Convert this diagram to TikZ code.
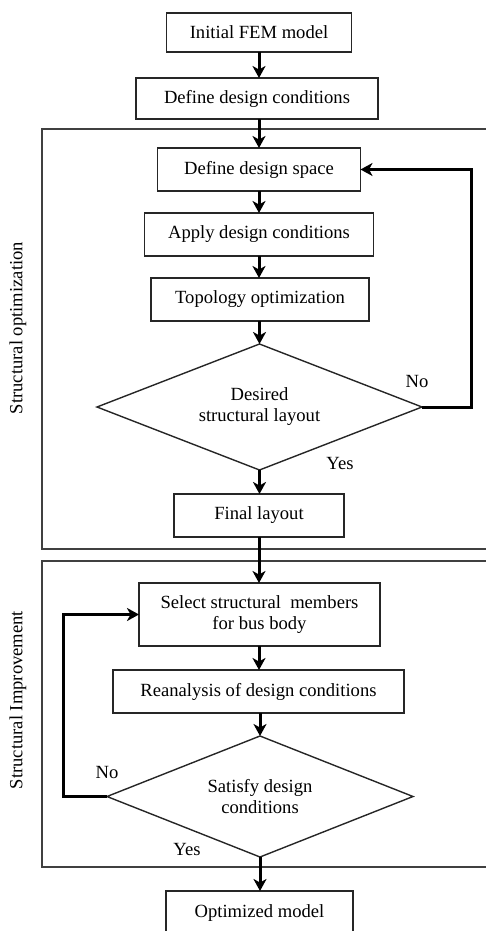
\documentclass[tikz,border=0pt]{standalone}
\usepackage{fontspec}
\setmainfont{Liberation Serif}
\usetikzlibrary{shapes.geometric,arrows.meta}
\begin{document}
\begin{tikzpicture}[x=1pt,y=-1pt,
  font=\fontsize{18.6}{21}\selectfont,
  box/.style={draw=black!85,line width=1.4pt,rectangle,inner sep=0pt,outer sep=0pt,align=center},
  dia/.style={draw=black!85,line width=1.4pt,diamond,inner sep=0pt,outer sep=0pt,align=center},
  group/.style={draw=black!75,line width=1.4pt},
  arr/.style={line width=3pt,-{Stealth[length=12pt,width=13pt,inset=3.5pt]}},
  lbl/.style={inner sep=0pt}]
\clip (0,0) rectangle (486,931);
\useasboundingbox (0,0) rectangle (486,931);
% groups
\draw[group] (42,129) rectangle (500,549);
\draw[group] (42,561) rectangle (500,867);
\node[lbl,rotate=90] (g1) at (18,328) {Structural optimization};
\node[lbl,rotate=90] (g2) at (18,700) {Structural Improvement};
% nodes
\node[box,minimum width=185,minimum height=39] (init) at (259,32.5) {Initial FEM model};
\node[box,minimum width=242,minimum height=41] (ddc) at (257,98.5) {Define design conditions};
\node[box,minimum width=203,minimum height=43] (dds) at (259,169.5) {Define design space};
\node[box,minimum width=229,minimum height=43] (apply) at (259,234.5) {Apply design conditions};
\node[box,minimum width=218,minimum height=43] (topo) at (260,299.5) {Topology optimization};
\node[dia,shape aspect=2.58,minimum width=325,minimum height=126] (d1) at (259.5,407) {Desired\\structural layout};
\node[box,minimum width=170,minimum height=43] (final) at (259,515.5) {Final layout};
\node[box,minimum width=241,minimum height=63] (select) at (259.5,614.5) {Select structural\ \ members\\for bus body};
\node[box,minimum width=291,minimum height=43] (rean) at (258.5,691.5) {Reanalysis of design conditions};
\node[dia,shape aspect=2.53,minimum width=306,minimum height=121] (d2) at (260,796.5) {Satisfy design\\conditions};
\node[box,minimum width=187,minimum height=44] (opt) at (259.5,913) {Optimized model};
% labels
\node[lbl] (no1) at (417,381) {No};
\node[lbl] (yes1) at (340,463) {Yes};
\node[lbl] (no2) at (107,772) {No};
\node[lbl] (yes2) at (187,849) {Yes};
% connectors
\coordinate (c1) at (259,0);
\draw[arr] (init.south -| c1) -- (ddc.north -| c1);
\draw[arr] (ddc.south -| c1) -- (dds.north -| c1);
\draw[arr] (dds.south -| c1) -- (apply.north -| c1);
\draw[arr] (apply.south -| c1) -- (topo.north -| c1);
\draw[arr] (topo.south -| d1.north) -- (d1.north);
\coordinate (r1) at (471,0);
\draw[arr] (d1.east) -- (d1.east -| r1) |- (dds.east);
\draw[arr] (d1.south) -- (final.north -| d1.south);
\draw[arr] (final.south -| c1) -- (select.north -| c1);
\draw[arr] (select.south -| c1) -- (rean.north -| c1);
\draw[arr] (rean.south -| d2.north) -- (d2.north);
\coordinate (l1) at (63,0);
\draw[arr] (d2.west) -- (d2.west -| l1) |- (select.west);
\draw[arr] (d2.south) -- (opt.north -| d2.south);
\end{tikzpicture}
\end{document}
